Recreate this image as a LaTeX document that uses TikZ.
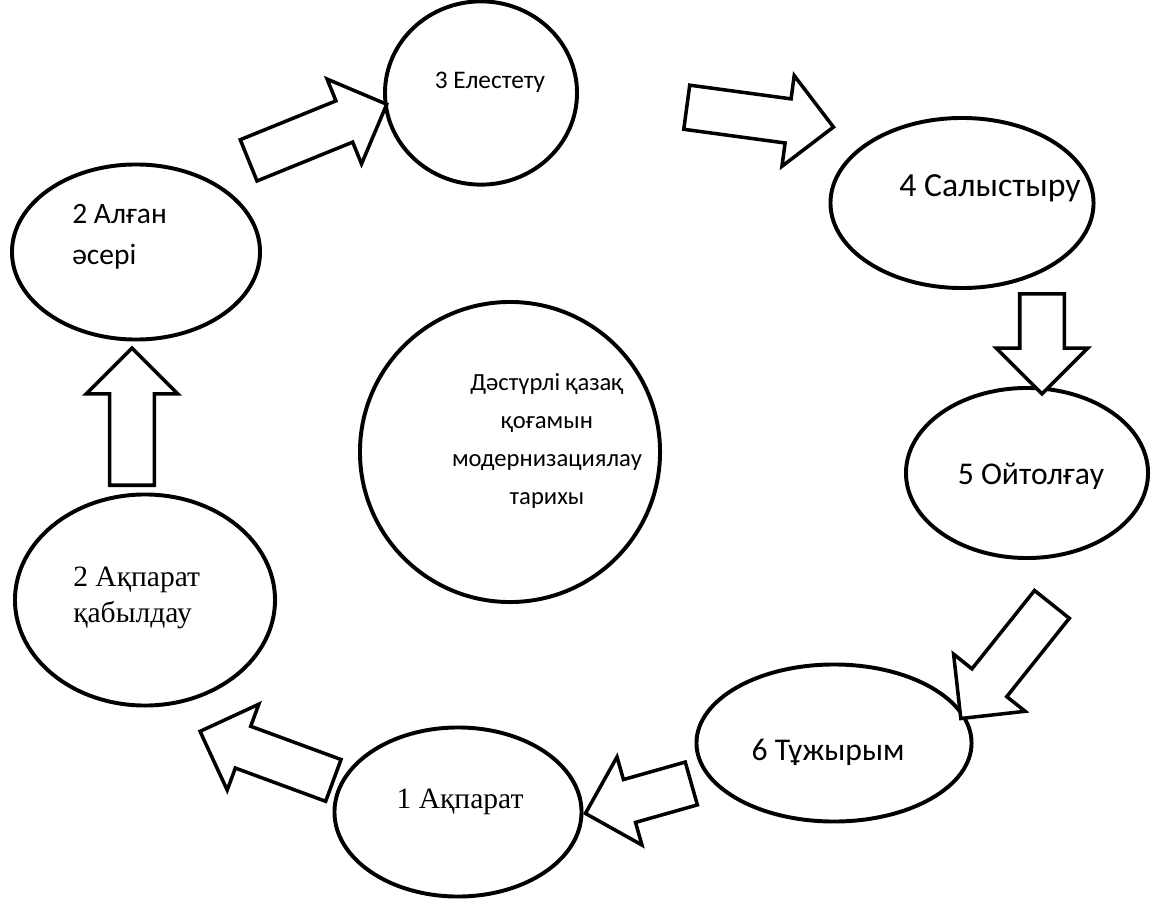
\documentclass[tikz,border=0pt]{standalone}
\usepackage{fontspec}
\setmainfont{Carlito}
\newfontfamily\timesfont{Liberation Serif}
\usetikzlibrary{shapes.geometric,shapes.arrows}

\begin{document}
\begin{tikzpicture}[x=0.025cm, y=-0.025cm,
    bubble/.style = {
      draw,
      ellipse,
      line width = 2.8pt,
      inner sep = 0pt
    },
    bigarrow/.style = {
      draw,
      fill = white,
      single arrow,
      line width = 2.5pt,
      inner xsep = 0pt,
      inner ysep = 0.5125cm,
      single arrow head extend = 0.5875cm,
      anchor = tail
    },
    sans/.style = {
      font = \fontsize{21}{29}\selectfont,
      inner sep = 0pt
    },
    serif/.style = {
      font = \fontsize{21}{26}\selectfont\timesfont,
      inner sep = 0pt
    }
  ]
  \useasboundingbox (0,0) rectangle (1162,899);

  \node[bubble, minimum width=4.8cm, minimum height=4.58cm] (e3) at (481,93) {};
  \node[bubble, minimum width=6.2cm, minimum height=4.375cm] (e2a) at (136,252) {};
  \node[bubble, minimum width=6.575cm, minimum height=4.25cm] (e4) at (962,203) {};
  \node[bubble, minimum width=6.05cm, minimum height=4.25cm] (e5) at (1027,473) {};
  \node[bubble, minimum width=7.5cm, minimum height=7.5cm] (ec) at (510,452) {};
  \node[bubble, minimum width=6.5cm, minimum height=5.275cm] (e2b) at (145,600) {};
  \node[bubble, minimum width=6.175cm, minimum height=4.225cm] (e1) at (458,812) {};
  \node[bubble, minimum width=6.875cm, minimum height=3.925cm] (e6) at (834,743) {};

  \node[sans, font=\fontsize{18}{24}\selectfont] (t3) at (490,82) {3 Елестету};
  \node[sans, anchor=west, align=left] (t2a) at (72,237) {2 Алған\\әсері};
  \node[sans, font=\fontsize{24}{29}\selectfont] (t4) at (990,188) {4 Салыстыру};
  \node[sans, font=\fontsize{22.5}{29}\selectfont] (t5) at (1031,476) {5 Ойтолғау};
  \node[sans, align=center, font=\fontsize{17.5}{27}\selectfont] (tc) at (547,441)
    {Дәстүрлі қазақ\\қоғамын\\модернизациялау\\тарихы};
  \node[serif, anchor=west, align=left] (t2b) at (73,598) {2 Ақпарат\\қабылдау};
  \node[serif] (t1) at (460,802) {1 Ақпарат};
  \node[sans, font=\fontsize{22.5}{29}\selectfont] (t6) at (828,752) {6 Тұжырым};

  \node[bigarrow, rotate=22.1, minimum height=3.725cm] (a23) at (247,161) {};
  \node[bigarrow, rotate=-7.7, minimum height=3.7cm] (a34) at (685,107) {};
  \node[bigarrow, rotate=-90, minimum height=2.5cm] (a45) at (1042,292) {};
  \node[bigarrow, rotate=-128.6, minimum height=3.65cm] (a56) at (1053,603) {};
  \node[bigarrow, rotate=-164.2, minimum height=2.75cm] (a61) at (693,783) {};
  \node[bigarrow, rotate=159.8, minimum height=3.55cm] (a12) at (335,781) {};
  \node[bigarrow, rotate=90, minimum height=3.425cm] (a22) at (132,487) {};
\end{tikzpicture}
\end{document}
